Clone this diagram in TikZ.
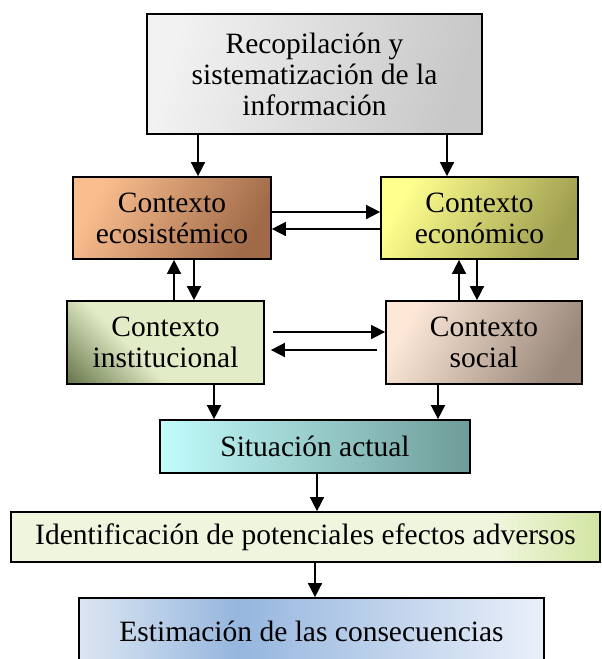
\documentclass[tikz,border=0pt]{standalone}
\usepackage{fontspec}
\setmainfont{Liberation Serif}
\usetikzlibrary{arrows.meta}
\definecolor{grayA}{RGB}{242,242,242}
\definecolor{grayB}{RGB}{200,200,200}
\definecolor{ecoA}{RGB}{250,190,142}
\definecolor{ecoB}{RGB}{160,106,72}
\definecolor{econA}{RGB}{255,255,142}
\definecolor{econB}{RGB}{158,158,80}
\definecolor{instD}{RGB}{106,122,78}
\definecolor{instL}{RGB}{226,236,198}
\definecolor{socA}{RGB}{253,232,216}
\definecolor{socB}{RGB}{154,136,122}
\definecolor{sitA}{RGB}{194,252,252}
\definecolor{sitB}{RGB}{110,156,152}
\definecolor{idA}{RGB}{240,246,222}
\definecolor{idB}{RGB}{210,230,162}
\definecolor{estA}{RGB}{220,230,242}
\definecolor{estB}{RGB}{150,182,222}
\definecolor{estC}{RGB}{234,240,250}
\pgfdeclarehorizontalshading{estsh}{100bp}{color(0bp)=(estA); color(25bp)=(estA); color(42bp)=(estB); color(75bp)=(estC); color(100bp)=(estC)}
\pgfdeclarehorizontalshading{idsh}{100bp}{color(0bp)=(idA); color(25bp)=(idA); color(66bp)=(idA); color(75bp)=(idB); color(100bp)=(idB)}
\pgfdeclarehorizontalshading{instsh}{100bp}{color(0bp)=(instD); color(16bp)=(instD); color(40bp)=(instL); color(100bp)=(instL)}
\tikzset{
  boxst/.style={draw=black, line width=1.7pt, inner sep=0pt, align=center,
    font=\fontsize{29.5}{31}\selectfont},
  arr/.style={line width=1.5pt, -{Triangle[length=14pt,width=14pt]}}
}
\begin{document}
\begin{tikzpicture}[x=1pt,y=-1pt]
\useasboundingbox (0,0) rectangle (602,659);
\node[boxst, minimum width=335pt, minimum height=120pt,
  left color=grayA, right color=grayB, shading angle=75]
  (top) at (314.5,74) {Recopilación y\\sistematización de la\\información};
\node[boxst, minimum width=198pt, minimum height=82pt,
  left color=ecoA, right color=ecoB, shading angle=60]
  (eco) at (172,218) {Contexto\\ecosistémico};
\node[boxst, minimum width=197pt, minimum height=82pt,
  left color=econA, right color=econB, shading angle=60]
  (econ) at (479.5,218) {Contexto\\económico};
\node[boxst, minimum width=197pt, minimum height=83pt,
  shade, shading=instsh, shading angle=45]
  (inst) at (165.5,342.5) {Contexto\\institucional};
\node[boxst, minimum width=196pt, minimum height=83pt,
  left color=socA, right color=socB, shading angle=60]
  (soc) at (484,342.5) {Contexto\\social};
\node[boxst, minimum width=310pt, minimum height=53pt,
  left color=sitA, right color=sitB]
  (sit) at (315,446.5) {Situación actual};
\node[boxst, minimum width=589pt, minimum height=50pt,
  shade, shading=idsh]
  (ident) at (305.5,537) {Identificación de potenciales efectos adversos};
\node[boxst, minimum width=465pt, minimum height=66pt,
  shade, shading=estsh]
  (est) at (311.5,631) {Estimación de las consecuencias};
% x positions of vertical connectors
\coordinate (xa) at (198,0);
\coordinate (xb) at (447,0);
\coordinate (xc) at (174,0);
\coordinate (xd) at (194,0);
\coordinate (xe) at (459,0);
\coordinate (xf) at (477,0);
\coordinate (xg) at (214,0);
\coordinate (xh) at (438,0);
\coordinate (xi) at (317,0);
\coordinate (xj) at (315,0);
\draw[arr] (top.south -| xa) -- (eco.north -| xa);
\draw[arr] (top.south -| xb) -- (econ.north -| xb);
\draw[arr] ([yshift=6pt]eco.east) -- ([yshift=6pt]econ.west);
\draw[arr] ([yshift=-11pt]econ.west) -- ([yshift=-11pt]eco.east);
\draw[arr] (inst.north -| xc) -- (eco.south -| xc);
\draw[arr] (eco.south -| xd) -- (inst.north -| xd);
\draw[arr] (soc.north -| xe) -- (econ.south -| xe);
\draw[arr] (econ.south -| xf) -- (soc.north -| xf);
\draw[arr] ([shift={(8pt,10.5pt)}]inst.east) -- ([yshift=10.5pt]soc.west);
\draw[arr] ([shift={(-8pt,-7.5pt)}]soc.west) -- ([shift={(6pt,-7.5pt)}]inst.east);
\draw[arr] (inst.south -| xg) -- (sit.north -| xg);
\draw[arr] (soc.south -| xh) -- (sit.north -| xh);
\draw[arr] (sit.south -| xi) -- (ident.north -| xi);
\draw[arr] (ident.south -| xj) -- (est.north -| xj);
\end{tikzpicture}
\end{document}
